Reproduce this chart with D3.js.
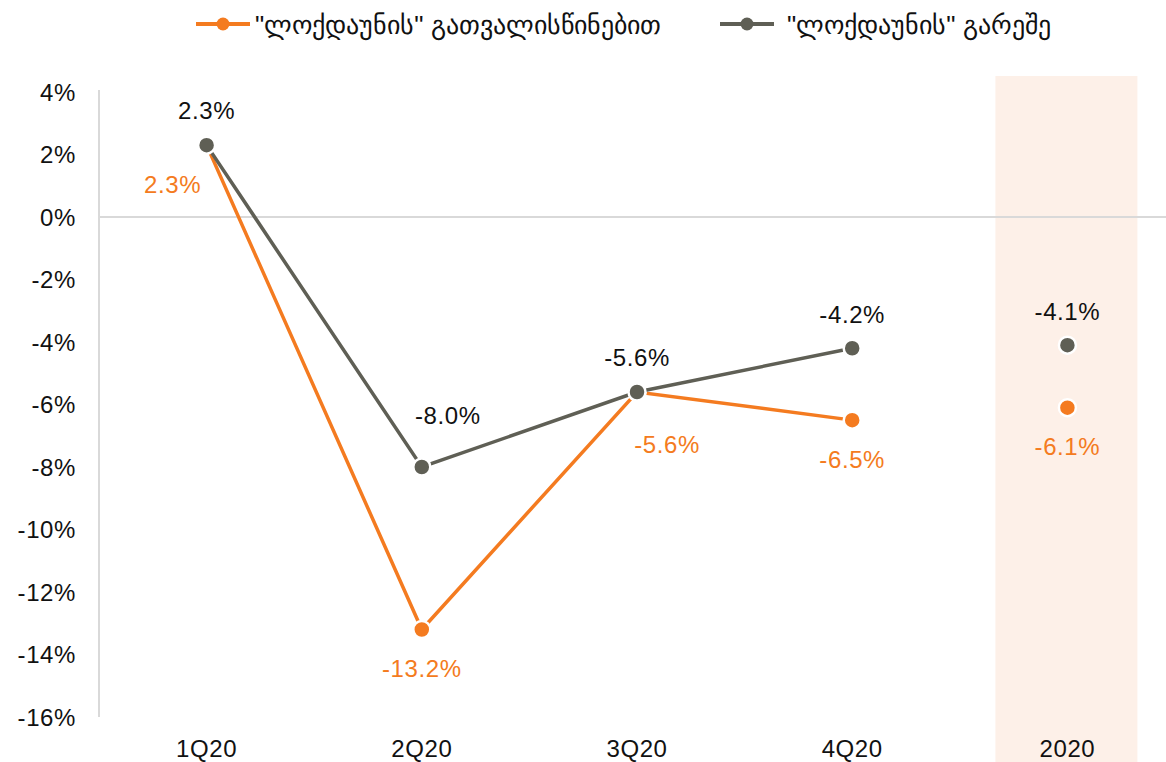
<!DOCTYPE html>
<html>
<head>
<meta charset="utf-8">
<script src="https://cdn.jsdelivr.net/npm/d3@7"></script>
<style>
  body { margin: 0; background: #fff; }
  svg { display: block; font-family: "Liberation Sans", Arial, sans-serif; }
</style>
</head>
<body>
<svg id="chart" width="1166" height="762"></svg>
<script>
// categories and values
const categories = ["1Q20", "2Q20", "3Q20", "4Q20", "2020"];
const withLockdown = [2.3, -13.2, -5.6, -6.5, -6.1];
const withoutLockdown = [2.3, -8.0, -5.6, -4.2, -4.1];
const yTicks = [4, 2, 0, -2, -4, -6, -8, -10, -12, -14, -16];
const seriesNames = ['"ლოქდაუნის" გათვალისწინებით', '"ლოქდაუნის" გარეშე'];

// label nudges so labels don't sit on the lines
const orangeLabelDx = [-34, 0, 30, 0, 0];
const orangeLabelDy = [39, 39, 52, 39, 39];
const grayLabelDx = [0, 26, 0, 0, 0];
const grayLabelDy = [-35, -52, -35, -34, -34];

const orange = "#f47b20";
const gray = "#5f5f55";

const svg = d3.select("#chart");
const plot = { left: 99, right: 1175, top: 92, bottom: 717 };

const x = d3.scaleBand().domain(categories).range([plot.left, plot.right]);
const y = d3.scaleLinear().domain([-16, 4]).range([plot.bottom, plot.top]);
const cx = d => x(d) + x.bandwidth() / 2;

// text helper: reference text is slightly wide, so a bit of letter spacing
function styleText(sel, size, color) {
  return sel.attr("font-size", size)
    .attr("letter-spacing", "0.6px")
    .attr("fill", color);
}

// shaded annual column
svg.append("rect")
  .attr("x", cx("2020") - 72)
  .attr("width", 142)
  .attr("y", 76)
  .attr("height", 762 - 76)
  .attr("fill", "#fdf0e8");

// y axis line and zero line
svg.append("line")
  .attr("x1", plot.left).attr("x2", plot.left)
  .attr("y1", plot.top - 2).attr("y2", plot.bottom)
  .attr("stroke", "#d9d9d9").attr("stroke-width", 2);
svg.append("line")
  .attr("x1", plot.left).attr("x2", 1166)
  .attr("y1", y(0)).attr("y2", y(0))
  .attr("stroke", "#d9d9d9").attr("stroke-width", 2);

// y tick labels
svg.append("g").selectAll("text")
  .data(yTicks)
  .join("text")
  .attr("x", 76)
  .attr("y", d => y(d))
  .attr("dy", "0.36em")
  .attr("text-anchor", "end")
  .call(styleText, 24, "#111")
  .text(d => d + "%");

// x labels
svg.append("g").selectAll("text")
  .data(categories)
  .join("text")
  .attr("x", d => cx(d))
  .attr("y", 757)
  .attr("text-anchor", "middle")
  .call(styleText, 24, "#111")
  .text(d => d);

const line = d3.line().x(d => cx(d.c)).y(d => y(d.v));

function drawSeries(values, color) {
  const pts = categories.map((c, i) => ({ c, v: values[i] }));
  svg.append("path")
    .datum(pts.slice(0, 4))
    .attr("d", line)
    .attr("fill", "none")
    .attr("stroke", color)
    .attr("stroke-width", 3.5);
  svg.append("g").selectAll("circle")
    .data(pts)
    .join("circle")
    .attr("cx", d => cx(d.c))
    .attr("cy", d => y(d.v))
    .attr("r", 8.5)
    .attr("fill", color)
    .attr("stroke", "#fff")
    .attr("stroke-width", 2.5);
  return pts;
}

const orangePts = drawSeries(withLockdown, orange);
const grayPts = drawSeries(withoutLockdown, gray);

const fmt = v => v.toFixed(1) + "%";

svg.append("g").selectAll("text")
  .data(grayPts)
  .join("text")
  .attr("x", (d, i) => cx(d.c) + grayLabelDx[i])
  .attr("y", (d, i) => y(d.v) + grayLabelDy[i])
  .attr("dy", "0.36em")
  .attr("text-anchor", "middle")
  .call(styleText, 24, "#111")
  .text(d => fmt(d.v));

svg.append("g").selectAll("text")
  .data(orangePts)
  .join("text")
  .attr("x", (d, i) => cx(d.c) + orangeLabelDx[i])
  .attr("y", (d, i) => y(d.v) + orangeLabelDy[i])
  .attr("dy", "0.36em")
  .attr("text-anchor", "middle")
  .call(styleText, 24, orange)
  .text(d => fmt(d.v));

// legend
const legend = svg.append("g");
[{ x: 196, tx: 255, color: orange, name: seriesNames[0] },
 { x: 720, tx: 787, color: gray, name: seriesNames[1] }]
  .forEach(item => {
    legend.append("line")
      .attr("x1", item.x).attr("x2", item.x + 54)
      .attr("y1", 24).attr("y2", 24)
      .attr("stroke", item.color).attr("stroke-width", 4);
    legend.append("circle")
      .attr("cx", item.x + 27).attr("cy", 24).attr("r", 6.5)
      .attr("fill", item.color);
    legend.append("text")
      .attr("x", item.tx).attr("y", 25)
      .attr("dy", "0.36em")
      .attr("font-size", 26)
      .attr("fill", "#111")
      .text(item.name);
  });
</script>
</body>
</html>
